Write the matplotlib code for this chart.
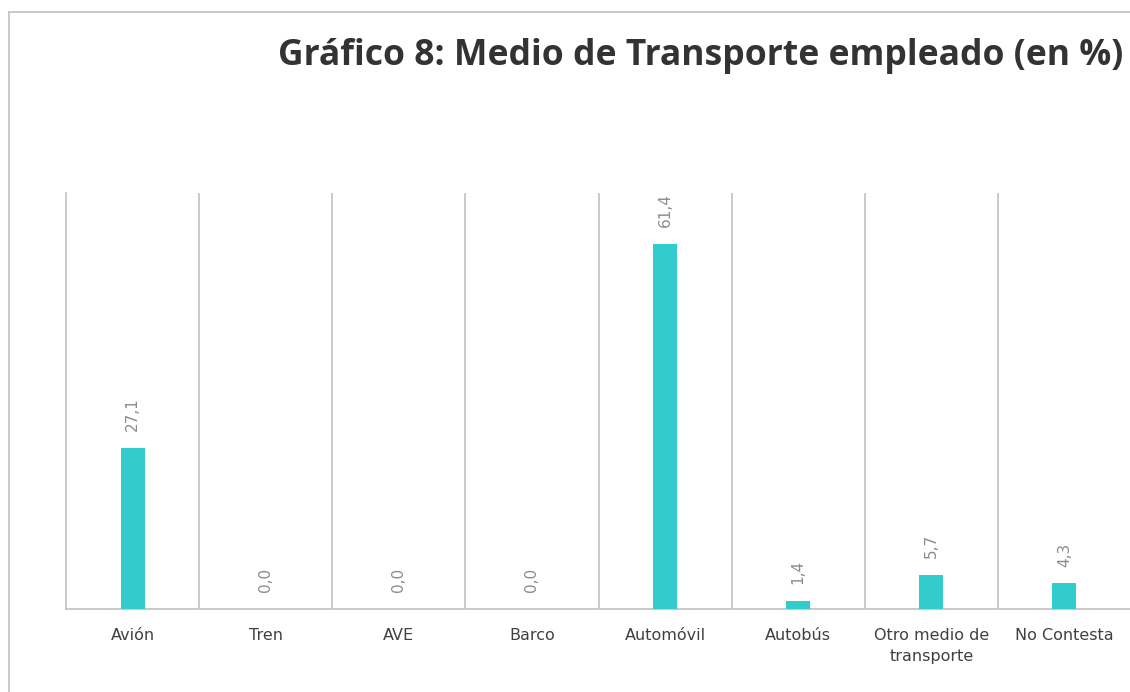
import numpy as np
from matplotlib import pyplot as plt
from matplotlib.lines import Line2D

plt.rcParams['font.family'] = ['DejaVu Sans']

categories = ['Avión', 'Tren', 'AVE', 'Barco', 'Automóvil', 'Autobús',
              'Otro medio de\ntransporte', 'No Contesta']
values = [27.1, 0.0, 0.0, 0.0, 61.4, 1.4, 5.7, 4.3]
title = 'Gráfico 8: Medio de Transporte empleado (en %)'

fig = plt.figure(figsize=(11.3, 6.92), dpi=100)

# outer chart border, only left and top edges show in the reference
bx, by = 8.5/1130, 1 - 11.5/692
fig.lines.append(Line2D([bx, bx], [0, by], transform=fig.transFigure,
                        color='#c0c0c0', linewidth=1.2))
fig.lines.append(Line2D([bx, 1.01], [by, by], transform=fig.transFigure,
                        color='#c0c0c0', linewidth=1.2))

ax = fig.add_axes([66/1130, 83/692, (1131-66)/1130, 416/692])
x = np.arange(len(categories))
ax.bar(x, values, width=0.18, color='#33CCCC', zorder=3)

ax.set_xlim(-0.5, len(categories) - 0.5)
ax.set_ylim(0, 70)
for b in np.arange(0.5, len(categories) - 0.5, 1):
    ax.axvline(b, color='#c0c0c0', linewidth=1.2, zorder=1)

for xi, v in zip(x, values):
    ax.annotate(('%.1f' % v).replace('.', ','), (xi, v), xytext=(0, 12),
                textcoords='offset points', rotation=90, ha='center',
                va='bottom', fontsize=11, color='#8c8c8c')

ax.set_xticks(x)
ax.set_xticklabels(categories, fontsize=11.5, color='#404040', linespacing=1.45)
ax.tick_params(axis='x', length=0, pad=14)
ax.set_yticks([])
for s in ['top', 'right']:
    ax.spines[s].set_visible(False)
for s in ['left', 'bottom']:
    ax.spines[s].set_color('#c0c0c0')
    ax.spines[s].set_linewidth(1.2)

fig.text(278/1130, 1 - 56/692, title, fontsize=25.6, fontweight='bold',
         family=['Open Sans', 'DejaVu Sans'], color='#333333',
         ha='left', va='center')

fig.savefig('out.png', dpi=100)
